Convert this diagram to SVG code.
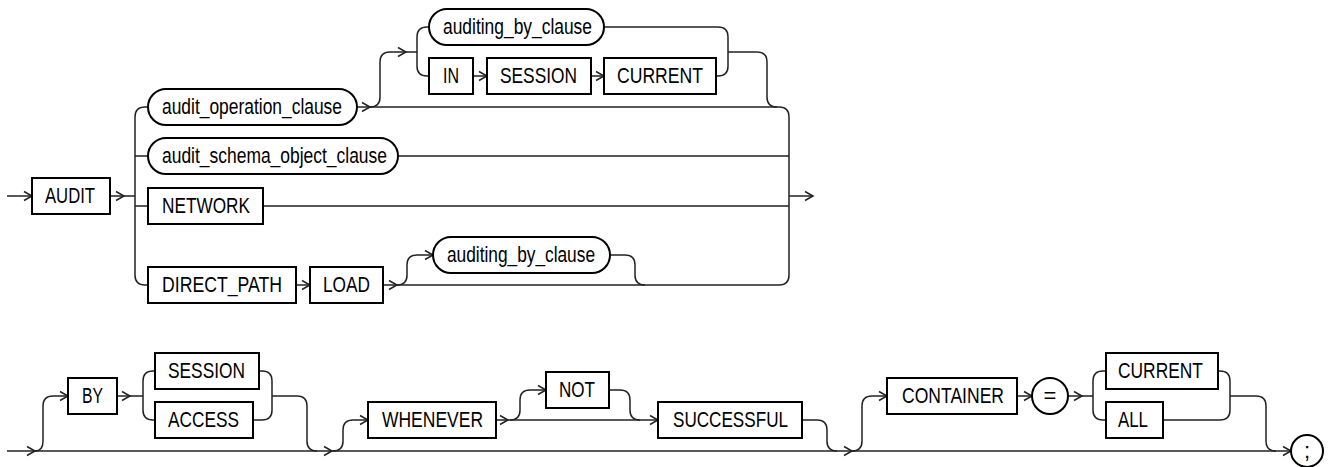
<svg xmlns="http://www.w3.org/2000/svg" xmlns:xlink="http://www.w3.org/1999/xlink" width="1334" height="467" viewBox="0 0 1334 467">
<style>
.box{fill:#fff;stroke:#000;stroke-width:2}
.ln{fill:none;stroke:#222;stroke-width:1.5}
.t{font-family:"Liberation Sans Narrow","Liberation Sans",Arial,sans-serif;font-size:22px;fill:#000}
.c{text-anchor:middle}
</style>
<defs>
<path id="ar" d="M-8,-4.5 L0,0 L-8,4.5" fill="none" stroke="#222" stroke-width="1.5"/>
</defs>
<rect width="1334" height="467" fill="#fff"/>
<g id="connectors">
<path class="ln" d="M7,196 L32,196"/>
<path class="ln" d="M110,196 L135,196"/>
<path class="ln" d="M148,107 L145,107 Q135,107 135,117 L135,275 Q135,285 145,285 L148,285"/>
<path class="ln" d="M135,156 L148,156 M135,206 L148,206"/>
<path class="ln" d="M357,107 L779,107 Q789,107 789,117 L789,275 Q789,285 779,285 L383,285"/>
<path class="ln" d="M398,156 L789,156 M263,206 L789,206"/>
<path class="ln" d="M789,196 L813,196"/>
<path class="ln" d="M370,107 Q380,107 380,97 L380,62 Q380,52 390,52 L417,52"/>
<path class="ln" d="M429,27 L427,27 Q417,27 417,37 L417,66 Q417,76 427,76 L429,76"/>
<path class="ln" d="M473,76 L487,76 M591,76 L604,76"/>
<path class="ln" d="M604,27 L718,27 Q728,27 728,37 L728,66 Q728,76 718,76 L716,76"/>
<path class="ln" d="M728,52 L757,52 Q767,52 767,62 L767,97 Q767,107 777,107"/>
<path class="ln" d="M296,285 L310,285"/>
<path class="ln" d="M397,285 Q407,285 407,275 L407,265 Q407,255 417,255 L433,255"/>
<path class="ln" d="M610,255 L625,255 Q635,255 635,265 L635,275 Q635,285 645,285"/>
<use href="#ar" x="32" y="196"/>
<use href="#ar" x="124" y="196"/>
<use href="#ar" x="370" y="107"/>
<use href="#ar" x="406" y="52"/>
<use href="#ar" x="487" y="76"/>
<use href="#ar" x="604" y="76"/>
<use href="#ar" x="813" y="196"/>
<use href="#ar" x="310" y="285"/>
<use href="#ar" x="397" y="285"/>
<use href="#ar" x="433" y="255"/>
<path class="ln" d="M7,451 L1291,451"/>
<path class="ln" d="M35,451 Q43,451 43,441 L43,406 Q43,396 53,396 L68,396"/>
<path class="ln" d="M117,396 L143,396"/>
<path class="ln" d="M155,371 L153,371 Q143,371 143,381 L143,410 Q143,420 153,420 L155,420"/>
<path class="ln" d="M259,371 L262,371 Q272,371 272,381 L272,410 Q272,420 262,420 L253,420"/>
<path class="ln" d="M272,396 L297,396 Q307,396 307,406 L307,441 Q307,451 317,451"/>
<path class="ln" d="M333,451 Q343,451 343,441 L343,430 Q343,420 353,420 L368,420"/>
<path class="ln" d="M496,420 L658,420"/>
<path class="ln" d="M510,420 Q520,420 520,410 L520,400 Q520,390 530,390 L546,390"/>
<path class="ln" d="M609,390 L620,390 Q630,390 630,400 L630,410 Q630,420 640,420"/>
<path class="ln" d="M802,420 L817,420 Q827,420 827,430 L827,441 Q827,451 837,451"/>
<path class="ln" d="M852,451 Q862,451 862,441 L862,406 Q862,396 872,396 L887,396"/>
<path class="ln" d="M1017,396 L1032,396 M1068,396 L1093,396"/>
<path class="ln" d="M1106,371 L1103,371 Q1093,371 1093,381 L1093,410 Q1093,420 1103,420 L1106,420"/>
<path class="ln" d="M1218,371 L1220,371 Q1230,371 1230,381 L1230,410 Q1230,420 1220,420 L1163,420"/>
<path class="ln" d="M1230,396 L1256,396 Q1266,396 1266,406 L1266,441 Q1266,451 1276,451"/>
<use href="#ar" x="35" y="451"/>
<use href="#ar" x="68" y="396"/>
<use href="#ar" x="130" y="396"/>
<use href="#ar" x="332" y="451"/>
<use href="#ar" x="368" y="420"/>
<use href="#ar" x="508" y="420"/>
<use href="#ar" x="546" y="390"/>
<use href="#ar" x="658" y="420"/>
<use href="#ar" x="852" y="451"/>
<use href="#ar" x="887" y="396"/>
<use href="#ar" x="1032" y="396"/>
<use href="#ar" x="1082" y="396"/>
<use href="#ar" x="1291" y="451"/>
</g>
<g id="n_audit"><rect class="box" x="32" y="178" width="78" height="36"/><text class="t" x="45" y="203" textLength="50" lengthAdjust="spacingAndGlyphs">AUDIT</text></g>
<g id="n_audit_operation_clause"><rect class="box" x="148" y="89" width="209" height="36" rx="18"/><text class="t" x="162" y="114" textLength="180" lengthAdjust="spacingAndGlyphs">audit_operation_clause</text></g>
<g id="n_auditing_by_clause_1"><rect class="box" x="429" y="9" width="175" height="36" rx="18"/><text class="t" x="443" y="34" textLength="149" lengthAdjust="spacingAndGlyphs">auditing_by_clause</text></g>
<g id="n_in"><rect class="box" x="429" y="58" width="44" height="36"/><text class="t" x="443" y="83" textLength="16" lengthAdjust="spacingAndGlyphs">IN</text></g>
<g id="n_session_1"><rect class="box" x="487" y="58" width="104" height="36"/><text class="t" x="500" y="83" textLength="77" lengthAdjust="spacingAndGlyphs">SESSION</text></g>
<g id="n_current_1"><rect class="box" x="604" y="58" width="112" height="36"/><text class="t" x="617" y="83" textLength="86" lengthAdjust="spacingAndGlyphs">CURRENT</text></g>
<g id="n_audit_schema_object_clause"><rect class="box" x="148" y="138" width="250" height="36" rx="18"/><text class="t" x="162" y="163" textLength="225" lengthAdjust="spacingAndGlyphs">audit_schema_object_clause</text></g>
<g id="n_network"><rect class="box" x="148" y="188" width="115" height="36"/><text class="t" x="162" y="213" textLength="88" lengthAdjust="spacingAndGlyphs">NETWORK</text></g>
<g id="n_direct_path"><rect class="box" x="148" y="267" width="148" height="36"/><text class="t" x="162" y="292" textLength="120" lengthAdjust="spacingAndGlyphs">DIRECT_PATH</text></g>
<g id="n_load"><rect class="box" x="310" y="267" width="73" height="36"/><text class="t" x="323" y="292" textLength="47" lengthAdjust="spacingAndGlyphs">LOAD</text></g>
<g id="n_auditing_by_clause_2"><rect class="box" x="433" y="237" width="177" height="36" rx="18"/><text class="t" x="447" y="262" textLength="148" lengthAdjust="spacingAndGlyphs">auditing_by_clause</text></g>
<g id="n_by"><rect class="box" x="68" y="378" width="49" height="36"/><text class="t" x="82" y="403" textLength="21" lengthAdjust="spacingAndGlyphs">BY</text></g>
<g id="n_session_2"><rect class="box" x="155" y="353" width="104" height="36"/><text class="t" x="168" y="378" textLength="77" lengthAdjust="spacingAndGlyphs">SESSION</text></g>
<g id="n_access"><rect class="box" x="155" y="402" width="98" height="36"/><text class="t" x="168" y="427" textLength="71" lengthAdjust="spacingAndGlyphs">ACCESS</text></g>
<g id="n_whenever"><rect class="box" x="368" y="402" width="128" height="36"/><text class="t" x="382" y="427" textLength="101" lengthAdjust="spacingAndGlyphs">WHENEVER</text></g>
<g id="n_not"><rect class="box" x="546" y="372" width="63" height="36"/><text class="t" x="559" y="397" textLength="36" lengthAdjust="spacingAndGlyphs">NOT</text></g>
<g id="n_successful"><rect class="box" x="658" y="402" width="144" height="36"/><text class="t" x="673" y="427" textLength="115" lengthAdjust="spacingAndGlyphs">SUCCESSFUL</text></g>
<g id="n_container"><rect class="box" x="887" y="378" width="130" height="36"/><text class="t" x="902" y="403" textLength="102" lengthAdjust="spacingAndGlyphs">CONTAINER</text></g>
<g id="n_eq"><circle class="box" cx="1050" cy="396" r="18"/><text class="t c" x="1050" y="403">=</text></g>
<g id="n_current_2"><rect class="box" x="1106" y="353" width="112" height="36"/><text class="t" x="1118" y="378" textLength="85" lengthAdjust="spacingAndGlyphs">CURRENT</text></g>
<g id="n_all"><rect class="box" x="1106" y="402" width="57" height="36"/><text class="t" x="1118" y="427" textLength="30" lengthAdjust="spacingAndGlyphs">ALL</text></g>
<g id="n_semicolon"><circle class="box" cx="1307" cy="451" r="16"/><text class="t c" x="1307" y="458">;</text></g>
</svg>
